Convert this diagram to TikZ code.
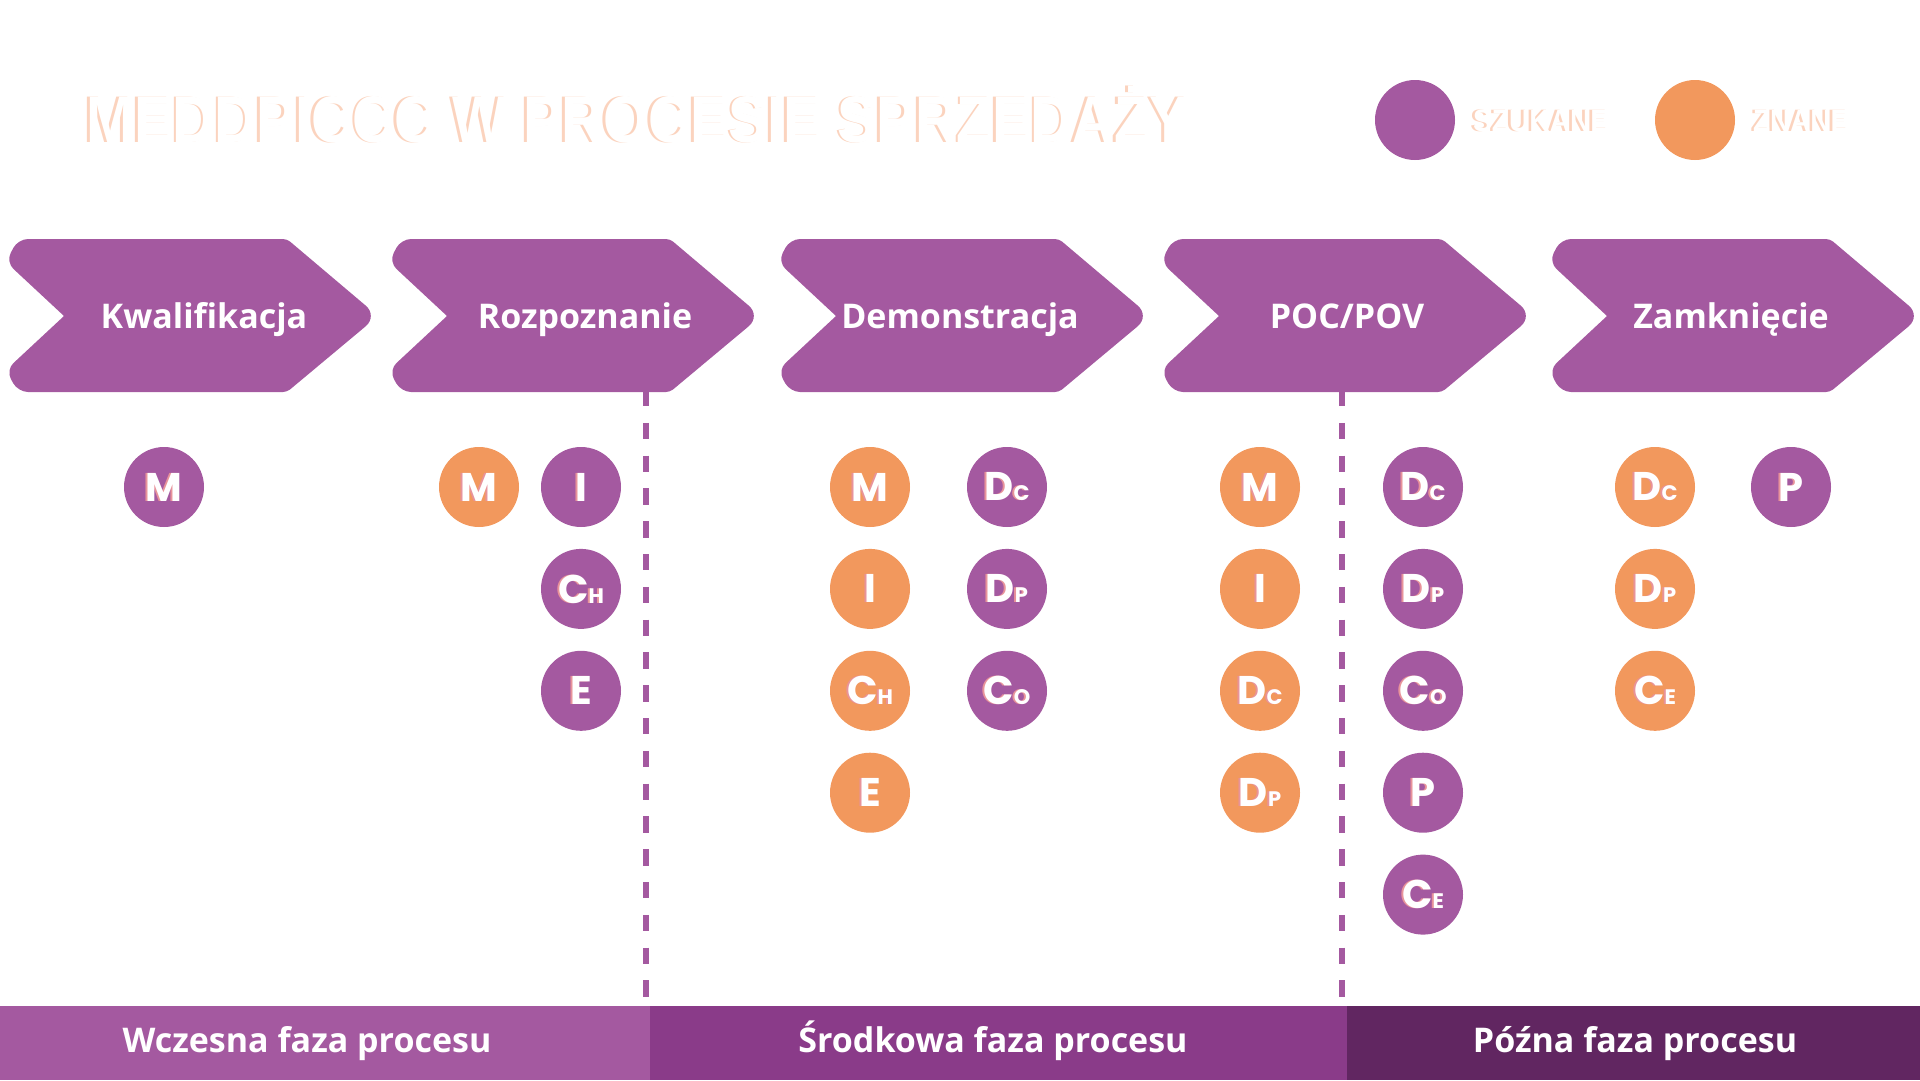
\documentclass[tikz,border=0pt]{standalone}
\usepackage{fontspec}
\setmainfont{Open Sans}
\newfontfamily\lettfont{Poppins}
\newfontfamily\titlefont{Liberation Sans}
\usepackage{xcolor}
\definecolor{plum}{HTML}{A459A0}
\definecolor{apricot}{HTML}{F2985D}
\definecolor{peach}{HTML}{FBD3BE}
\definecolor{shade}{HTML}{E8939A}
\definecolor{midplum}{HTML}{8A3B89}
\definecolor{darkplum}{HTML}{612661}
\usepackage{graphicx}
\usepackage{tikz}
\usetikzlibrary{positioning}

\newcommand{\ltrtxt}[2]{{\fontsize{40}{40}\selectfont #1}{\fontsize{21}{21}\selectfont #2}}
\newcommand{\ltr}[2]{\rlap{\kern-2pt\textcolor{shade}{\ltrtxt{#1}{#2}}}\ltrtxt{#1}{#2}}
\newcommand{\ghost}[1]{\rlap{\kern-3pt\textcolor{peach}{#1}}\textcolor{white}{#1}}

\begin{document}
\begin{tikzpicture}[x=1pt, y=-1pt, node distance=21.5pt,
  sought/.style={circle, fill=plum, minimum size=80pt, inner sep=0pt, text=white, font=\lettfont\bfseries},
  known/.style={sought, fill=apricot},
  stage/.style={text=white, anchor=base, inner sep=0pt, font=\bfseries\fontsize{34}{34}\selectfont},
  phase/.style={text=white, anchor=base, inner sep=0pt, font=\bfseries\fontsize{34}{34}\selectfont},
  sep/.style={plum, line width=6pt, dash pattern=on 16.4pt off 16.4pt},
  chev/.pic={\fill[plum] (58,77) [rounded corners=10pt] -- (0,23) -- (12,0)
    [rounded corners=4pt] -- (281,0) [rounded corners=16pt] -- (372,77)
    [rounded corners=4pt] -- (281,153) [rounded corners=10pt] -- (12,153) -- (0,131) -- (58,77);}]
  \useasboundingbox (0,0) rectangle (1920,1080);

  % title and legend
  \node[anchor=base west, inner sep=0pt] (title) at (86,142)
    {\resizebox{1102pt}{\height}{\titlefont\bfseries\fontsize{66}{66}\selectfont\ghost{MEDDPICCC W PROCESIE SPRZEDAŻY}}};
  \node[sought] (leg-s) at (1415,120) {};
  \node[anchor=base west, inner sep=0pt] (leg-st) at (1473,131)
    {\resizebox{136pt}{\height}{\titlefont\bfseries\fontsize{31}{31}\selectfont\ghost{SZUKANE}}};
  \node[known] (leg-k) at (1695,120) {};
  \node[anchor=base west, inner sep=0pt] (leg-kt) at (1753,131)
    {\resizebox{96pt}{\height}{\titlefont\bfseries\fontsize{31}{31}\selectfont\ghost{ZNANE}}};

  % phase separators
  \draw[sep] (646,390) -- (646,997);
  \draw[sep] (1342,390) -- (1342,997);

  % stages
  \pic at (6,239) {chev};
  \pic at (389,239) {chev};
  \pic at (778,239) {chev};
  \pic at (1161,239) {chev};
  \pic at (1549,239) {chev};
  \node[stage] (kwal) at (204,328) {Kwalifikacja};
  \node[stage] (rozp) at (585,328) {Rozpoznanie};
  \node[stage] (demo) at (960,328) {Demonstracja};
  \node[stage] (poc) at (1347,328) {POC/POV};
  \node[stage] (zamk) at (1731,328) {Zamknięcie};

  % Kwalifikacja
  \node[sought] (k-m) at (164,487) {\ltr{M}{}};

  % Rozpoznanie
  \node[known] (r-m) at (479,487) {\ltr{M}{}};
  \node[sought] (r-i) at (581,487) {\ltr{I}{}};
  \node[sought, below=of r-i] (r-ch) {\ltr{C}{H}};
  \node[sought, below=of r-ch] (r-e) {\ltr{E}{}};

  % Demonstracja
  \node[known] (d-m) at (870,487) {\ltr{M}{}};
  \node[known, below=of d-m] (d-i) {\ltr{I}{}};
  \node[known, below=of d-i] (d-ch) {\ltr{C}{H}};
  \node[known, below=of d-ch] (d-e) {\ltr{E}{}};
  \node[sought] (d-dc) at (1007,487) {\ltr{D}{C}};
  \node[sought, below=of d-dc] (d-dp) {\ltr{D}{P}};
  \node[sought, below=of d-dp] (d-co) {\ltr{C}{O}};

  % POC/POV
  \node[known] (p-m) at (1260,487) {\ltr{M}{}};
  \node[known, below=of p-m] (p-i) {\ltr{I}{}};
  \node[known, below=of p-i] (p-dc) {\ltr{D}{C}};
  \node[known, below=of p-dc] (p-dp) {\ltr{D}{P}};
  \node[sought] (p-dc2) at (1423,487) {\ltr{D}{C}};
  \node[sought, below=of p-dc2] (p-dp2) {\ltr{D}{P}};
  \node[sought, below=of p-dp2] (p-co) {\ltr{C}{O}};
  \node[sought, below=of p-co] (p-p) {\ltr{P}{}};
  \node[sought, below=of p-p] (p-ce) {\ltr{C}{E}};

  % Zamkniecie
  \node[known] (z-dc) at (1655,487) {\ltr{D}{C}};
  \node[known, below=of z-dc] (z-dp) {\ltr{D}{P}};
  \node[known, below=of z-dp] (z-ce) {\ltr{C}{E}};
  \node[sought] (z-p) at (1791,487) {\ltr{P}{}};

  % process phases
  \fill[plum] (0,1006) rectangle (650,1080);
  \fill[midplum] (650,1006) rectangle (1347,1080);
  \fill[darkplum] (1347,1006) rectangle (1920,1080);
  \node[phase] (early) at (307,1052) {Wczesna faza procesu};
  \node[phase] (mid) at (993,1052) {Środkowa faza procesu};
  \node[phase] (late) at (1635,1052) {Późna faza procesu};
\end{tikzpicture}
\end{document}
